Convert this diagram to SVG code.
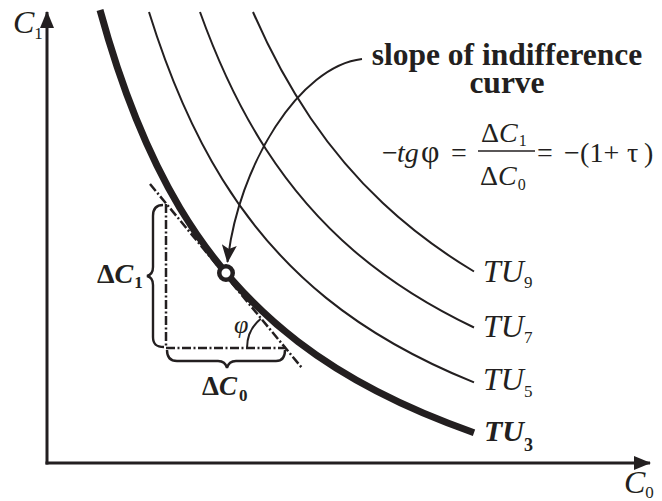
<svg xmlns="http://www.w3.org/2000/svg" width="662" height="501" viewBox="0 0 662 501">
<defs>
<style>
.ln{fill:none;stroke:#231f20;stroke-width:2}
.thick{fill:none;stroke:#231f20;stroke-width:7}
.axis{fill:none;stroke:#231f20;stroke-width:3}
.dd{fill:none;stroke:#231f20;stroke-width:2.5;stroke-dasharray:9 2.5 2 2.5}
.br{fill:none;stroke:#231f20;stroke-width:2.4}
text{font-family:"Liberation Serif","Times New Roman",serif;fill:#231f20}
.it{font-style:italic}
.up{font-style:normal}
.b{font-weight:bold}
</style>
<marker id="axh" markerUnits="userSpaceOnUse" viewBox="0 0 17 14" refX="16" refY="7" markerWidth="17" markerHeight="14" orient="auto"><path d="M0,0 L17,7 L0,14 z" fill="#231f20"/></marker>
<marker id="arh" markerUnits="userSpaceOnUse" viewBox="0 0 18 15" refX="17" refY="7.5" markerWidth="18" markerHeight="15" orient="auto"><path d="M0,0 L18,7.5 L0,15 L4,7.5 z" fill="#231f20"/></marker>
</defs>
<rect width="662" height="501" fill="#fff"/>
<g id="axes">
<path class="axis" d="M47,464.5 L47,12" marker-end="url(#axh)"/>
<path class="axis" d="M45.5,463 L650,463" marker-end="url(#axh)"/>
<text class="it" x="13" y="33" font-size="32">C<tspan class="up" font-size="17" dy="6">1</tspan></text>
<text class="it" x="624" y="493" font-size="32">C<tspan class="up" font-size="17" dy="5">0</tspan></text>
</g>
<g id="TU9">
<path class="ln" d="M253,12 C270.2,51.5 289.2,86.6 310.7,118.2 C332.2,149.8 356,177.8 382.8,203.1 C409.6,228.4 439.5,250.8 474,271.5"/>
<text class="it" x="483" y="282" font-size="32">TU<tspan class="up" font-size="17" dy="6">9</tspan></text>
</g>
<g id="TU7">
<path class="ln" d="M200,12 C218.9,64.7 240.5,109.7 265.8,149 C291.2,188.3 320.2,221.8 354.2,251 C388.3,280.2 427.3,305.2 474,327.5"/>
<text class="it" x="483" y="337" font-size="32">TU<tspan class="up" font-size="17" dy="6">7</tspan></text>
</g>
<g id="TU5">
<path class="ln" d="M149,12 C169.5,78 193.5,132.8 222.5,179.5 C251.5,226.2 285.4,265 326.4,298.1 C367.3,331.2 415.2,358.6 474,382.4"/>
<text class="it" x="483" y="390" font-size="32">TU<tspan class="up" font-size="17" dy="7">5</tspan></text>
</g>
<g id="triangle">
<line class="dd" x1="150" y1="184" x2="302" y2="368"/>
<path class="dd" d="M166,204 L166,348 L286,348"/>
<path class="br" d="M163,205 C156,205 153,209 153,216 L153,267 C153,272 151,275 147,276 C151,277 153,280 153,285 L153,337 C153,344 156,347 164,347"/>
<path class="br" d="M167,350 C167,357 170,361 177,361 L218,361 C223,361 226,364 227,368 C228,364 231,361 236,361 L276,361 C282,361 285,357 285,350"/>
<path class="ln" d="M247,348 A38,38 0 0 1 260.8,318.7"/>
<text class="it" x="234" y="333" font-size="26">φ</text>
<text class="b" x="97" y="283" font-size="28">Δ<tspan class="it">C</tspan><tspan font-size="17" dy="5" dx="1">1</tspan></text>
<text class="b" x="202" y="395" font-size="27">Δ<tspan class="it">C</tspan><tspan font-size="17" dy="6" dx="2">0</tspan></text>
</g>
<g id="TU3">
<path class="thick" d="M100,10 C121.8,89.8 147.7,154.1 179.9,208 C212.1,261.9 250.5,305.3 298.1,341.8 C345.7,378.3 402.6,407.7 474,432.7"/>
<text class="it b" x="484" y="441" font-size="30">TU<tspan class="up" font-size="18" dy="10">3</tspan></text>
</g>
<g id="connectors">
<path class="ln" d="M362,59 C300,66 238,165 227.5,262" marker-end="url(#arh)"/>
</g>
<g id="point">
<circle cx="226" cy="273" r="6.75" fill="#fff" stroke="#231f20" stroke-width="4.5"/>
</g>
<g id="label">
<text class="b" font-size="31.5" text-anchor="middle"><tspan x="507" y="65">slope of indifference</tspan><tspan x="507" y="93">curve</tspan></text>
<text font-size="28" y="162"><tspan x="382">−</tspan><tspan class="it" x="397">tg</tspan><tspan x="421" font-size="32">φ</tspan><tspan x="451">=</tspan><tspan x="537">=</tspan><tspan x="564">−</tspan><tspan x="580">(</tspan><tspan x="589.5">1</tspan><tspan x="603.5">+</tspan><tspan x="627">τ</tspan><tspan x="644">)</tspan></text>
<text x="481" y="142" font-size="28">Δ<tspan class="it">C</tspan><tspan font-size="16" dy="4" dx="1">1</tspan></text>
<line x1="478" y1="151" x2="535" y2="151" stroke="#231f20" stroke-width="1.5"/>
<text x="480" y="185" font-size="28">Δ<tspan class="it">C</tspan><tspan font-size="16" dy="5" dx="1">0</tspan></text>
</g>
</svg>
